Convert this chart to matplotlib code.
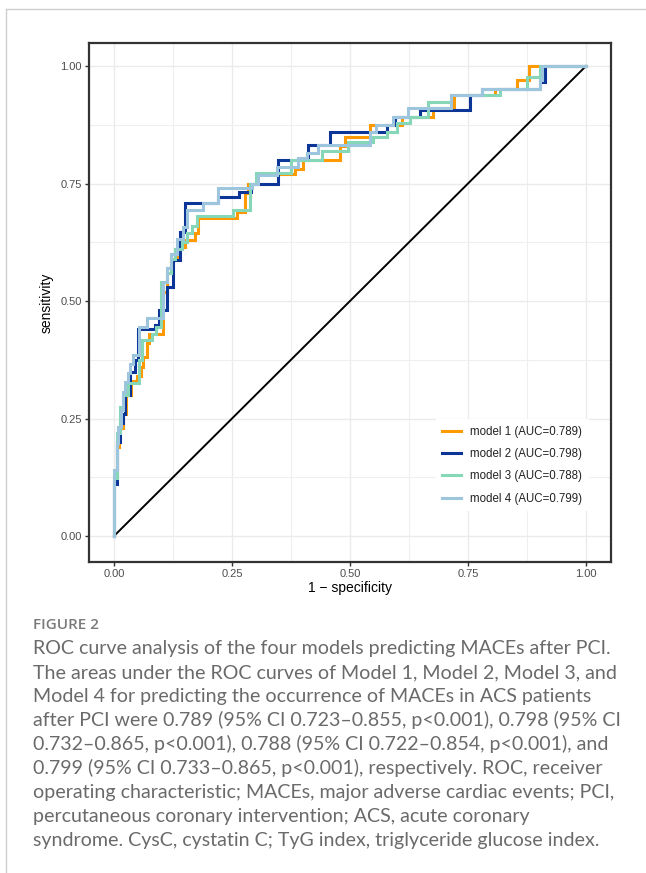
import matplotlib
matplotlib.use("Agg")
import matplotlib.pyplot as plt
from matplotlib.lines import Line2D
from matplotlib.ticker import MultipleLocator

# ---- data (ROC step corners: fpr, tpr; vertical-then-horizontal steps) ----
m1_fpr = [0, 0.006, 0.01, 0.02, 0.025, 0.035, 0.048, 0.057, 0.062, 0.069, 0.075, 0.104, 0.112, 0.12,
          0.133, 0.15, 0.172, 0.179, 0.26, 0.278, 0.283, 0.306, 0.383, 0.40, 0.479, 0.49, 0.542, 0.61,
          0.676, 0.72, 0.807, 0.853, 0.88, 1.0]
m1_tpr = [0, 0.13, 0.19, 0.23, 0.26, 0.30, 0.33, 0.34, 0.36, 0.38, 0.41, 0.43, 0.52, 0.57,
          0.59, 0.615, 0.63, 0.645, 0.677, 0.69, 0.73, 0.75, 0.77, 0.78, 0.80, 0.83, 0.85, 0.875,
          0.892, 0.91, 0.938, 0.952, 0.97, 1.0]

m2_fpr = [0, 0.006, 0.012, 0.02, 0.023, 0.034, 0.044, 0.05, 0.087, 0.095, 0.112, 0.126, 0.14, 0.15,
          0.221, 0.265, 0.29, 0.348, 0.412, 0.458, 0.578, 0.595, 0.648, 0.754, 0.779, 0.903, 0.913, 1.0]
m2_tpr = [0, 0.11, 0.20, 0.24, 0.26, 0.30, 0.35, 0.375, 0.44, 0.45, 0.48, 0.53, 0.587, 0.647,
          0.708, 0.722, 0.733, 0.75, 0.80, 0.832, 0.86, 0.875, 0.892, 0.906, 0.938, 0.952, 0.966, 1.0]

m3_fpr = [0, 0.006, 0.013, 0.02, 0.03, 0.052, 0.06, 0.08, 0.09, 0.10, 0.112, 0.12, 0.13, 0.143,
          0.154, 0.165, 0.175, 0.253, 0.288, 0.30, 0.376, 0.44, 0.496, 0.549, 0.578, 0.60, 0.627,
          0.665, 0.715, 0.818, 0.874, 0.903, 1.0]
m3_tpr = [0, 0.123, 0.22, 0.275, 0.30, 0.325, 0.375, 0.417, 0.43, 0.445, 0.54, 0.56, 0.59, 0.61,
          0.625, 0.645, 0.66, 0.68, 0.694, 0.75, 0.772, 0.80, 0.82, 0.839, 0.85, 0.86, 0.878,
          0.892, 0.924, 0.938, 0.952, 0.977, 1.0]

m4_fpr = [0, 0.006, 0.009, 0.015, 0.018, 0.023, 0.029, 0.034, 0.041, 0.052, 0.069, 0.104, 0.112, 0.12,
          0.133, 0.147, 0.154, 0.189, 0.221, 0.292, 0.306, 0.345, 0.39, 0.408, 0.433, 0.542, 0.556,
          0.592, 0.623, 0.715, 0.779, 0.903, 0.906, 1.0]
m4_tpr = [0, 0.14, 0.197, 0.233, 0.268, 0.307, 0.328, 0.346, 0.367, 0.385, 0.445, 0.463, 0.54, 0.57,
          0.60, 0.633, 0.658, 0.694, 0.708, 0.74, 0.75, 0.768, 0.786, 0.804, 0.814, 0.832, 0.86,
          0.875, 0.892, 0.91, 0.938, 0.952, 0.97, 1.0]

labels = ["model 1 (AUC=0.789)", "model 2 (AUC=0.798)", "model 3 (AUC=0.788)", "model 4 (AUC=0.799)"]
colors = ["#FF9900", "#0B3597", "#86D7B8", "#9DC5DE"]
ticks = [0.0, 0.25, 0.5, 0.75, 1.0]
tick_labels = ["0.00", "0.25", "0.50", "0.75", "1.00"]

caption_title = "FIGURE 2"
caption_lines = [
    "ROC curve analysis of the four models predicting MACEs after PCI.",
    "The areas under the ROC curves of Model 1, Model 2, Model 3, and",
    "Model 4 for predicting the occurrence of MACEs in ACS patients",
    "after PCI were 0.789 (95% CI 0.723\u20130.855, p<0.001), 0.798 (95% CI",
    "0.732\u20130.865, p<0.001), 0.788 (95% CI 0.722\u20130.854, p<0.001), and",
    "0.799 (95% CI 0.733\u20130.865, p<0.001), respectively. ROC, receiver",
    "operating characteristic; MACEs, major adverse cardiac events; PCI,",
    "percutaneous coronary intervention; ACS, acute coronary",
    "syndrome. CysC, cystatin C; TyG index, triglyceride glucose index.",
]

W, H = 646, 873
fig = plt.figure(figsize=(W / 100, H / 100), dpi=100)
fig.patch.set_facecolor("white")

# page border (left and top)
fig.add_artist(Line2D([6 / W, 6 / W], [0, 1 - 9 / H], color="#CFCFCF", lw=1.0))
fig.add_artist(Line2D([6 / W, 1], [1 - 9 / H, 1 - 9 / H], color="#CFCFCF", lw=1.0))

ax = fig.add_axes([89 / W, 1 - 562 / H, 522 / W, 519 / H])
ax.set_xlim(-0.053, 1.053)
ax.set_ylim(-0.0553, 1.049)
ax.set_facecolor("white")
ax.xaxis.set_minor_locator(MultipleLocator(0.125))
ax.yaxis.set_minor_locator(MultipleLocator(0.125))
ax.grid(which="major", color="#EBEBEB", lw=1.0)
ax.grid(which="minor", color="#EFEFEF", lw=0.8)
ax.set_axisbelow(True)
ax.set_xticks(ticks)
ax.set_xticklabels(tick_labels)
ax.set_yticks(ticks)
ax.set_yticklabels(tick_labels)
ax.tick_params(which="major", length=3, width=1.0, color="#333333", labelsize=8,
               labelcolor="#4D4D4D", pad=2)
ax.tick_params(which="minor", length=0)
for s in ax.spines.values():
    s.set_color("#333333")
    s.set_linewidth(1.6)

ax.plot([0, 1], [0, 1], color="black", lw=1.4, zorder=2)
for fx, ty, c, lab in zip([m1_fpr, m2_fpr, m3_fpr, m4_fpr], [m1_tpr, m2_tpr, m3_tpr, m4_tpr], colors, labels):
    ax.plot(fx, ty, drawstyle="steps-pre", color=c, lw=2.2, label=lab, zorder=3,
            solid_joinstyle="miter")

leg = ax.legend(loc="lower left", bbox_to_anchor=(0.664, 0.098), fontsize=8.3,
                frameon=True, facecolor="white", edgecolor="none", framealpha=1,
                handlelength=1.65, handletextpad=0.8, labelspacing=0.9, borderpad=0.55,
                borderaxespad=0)
leg.get_frame().set_boxstyle("square", pad=0)
for t in leg.get_texts():
    t.set_color("#222222")

ax.set_xlabel("1 \u2212 specificity", fontsize=10, color="black", labelpad=1.5)
ax.set_ylabel("sensitivity", fontsize=10, color="black", labelpad=5)

for t in ax.get_xticklabels() + ax.get_yticklabels() + [ax.xaxis.label, ax.yaxis.label] + leg.get_texts():
    t.set_fontfamily(["Liberation Sans", "DejaVu Sans"])

# caption
cap_font = ["Lato", "Open Sans", "DejaVu Sans"]
fig.text(33 / W, 1 - 629 / H, caption_title, fontsize=11, fontweight="semibold",
         color="#7A7A7A", family=["Open Sans", "DejaVu Sans"], va="baseline", ha="left")
texts = []
for i, line in enumerate(caption_lines):
    texts.append(fig.text(33 / W, 1 - (654 + 24 * i) / H, line, fontsize=12,
                          fontweight="normal", color="#6A6A6A", family=cap_font,
                          va="baseline", ha="left"))
fig.canvas.draw()
r = fig.canvas.get_renderer()
wmax = max(t.get_window_extent(r).width for t in texts)
scale = 587.0 / wmax
for t in texts:
    t.set_fontsize(12 * scale)

fig.savefig("out.png", dpi=100, facecolor="white")
